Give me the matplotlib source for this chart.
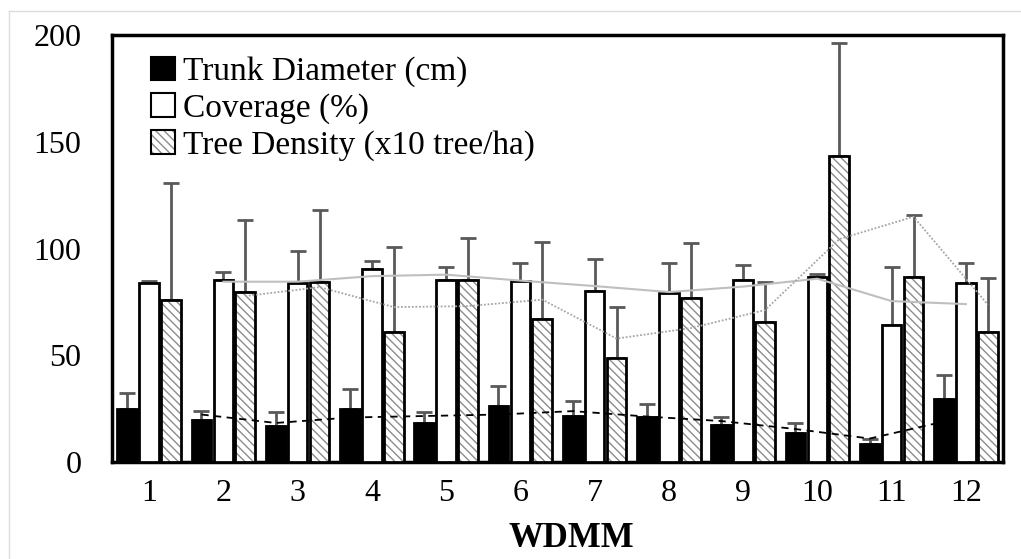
import matplotlib
matplotlib.use("Agg")
import matplotlib.pyplot as plt
from matplotlib.patches import Patch
from matplotlib.lines import Line2D
import numpy as np
import pandas as pd

# WDMM classes
wdmm = [1, 2, 3, 4, 5, 6, 7, 8, 9, 10, 11, 12]

trunk = [24.8, 19.7, 16.9, 24.8, 18.3, 26.2, 21.5, 21.1, 17.3, 13.6, 8.4, 29.5]
trunk_err = [7.5, 4.2, 6.5, 9.4, 5.0, 9.4, 7.0, 6.0, 3.8, 4.7, 2.4, 11.2]

coverage = [83.8, 85.2, 83.8, 90.4, 85.2, 84.8, 80.1, 79.2, 85.2, 86.6, 64.2, 83.8]
coverage_err = [1.2, 4.0, 15.0, 3.7, 6.0, 8.4, 15.0, 14.0, 7.0, 1.4, 27.0, 9.4]

density = [75.9, 79.6, 84.3, 60.9, 85.2, 67.0, 48.7, 76.8, 65.6, 143.3, 86.6, 60.9]
density_err = [55.0, 34.0, 34.0, 40.0, 20.0, 36.0, 24.0, 26.0, 18.7, 53.0, 29.0, 25.3]

labels = ["Trunk Diameter (cm)", "Coverage (%)", "Tree Density (x10 tree/ha)"]

plt.rcParams['font.family'] = ['Liberation Serif', 'DejaVu Serif']
plt.rcParams['hatch.linewidth'] = 1.0

fig = plt.figure(figsize=(10.21, 5.59), dpi=100)
ax = fig.add_axes([0.1097, 0.1735, 0.8727, 0.7635])

x = np.array(wdmm)
w = 0.265
off = 0.295
err_kw = dict(fmt='none', ecolor='#595959', elinewidth=2, capsize=6, capthick=2, zorder=2)

ax.bar(x - off, trunk, w, color='black', edgecolor='black', linewidth=2, zorder=3)
ax.errorbar(x - off, trunk, yerr=[np.zeros(12), trunk_err], **err_kw)

ax.bar(x, coverage, w, color='white', edgecolor='black', linewidth=2, zorder=3)
ax.errorbar(x, coverage, yerr=[np.zeros(12), coverage_err], **err_kw)

# hatched fill first, then black outline on top
ax.bar(x + off, density, w, color='white', edgecolor='#8c8c8c', hatch='\\\\\\\\', linewidth=0, zorder=3)
ax.bar(x + off, density, w, color='none', edgecolor='black', linewidth=2, zorder=3.1)
ax.errorbar(x + off, density, yerr=[np.zeros(12), density_err], **err_kw)

# 2-period moving average trendlines
ax.plot(x - off, pd.Series(trunk).rolling(2).mean(), color='black', ls=(0, (4, 3)), lw=1.3, zorder=4)
ax.plot(x, pd.Series(coverage).rolling(2).mean(), color='#bfbfbf', ls='-', lw=1.5, zorder=4)
ax.plot(x + off, pd.Series(density).rolling(2).mean(), color='#a6a6a6', ls=(0, (1, 1)), lw=1.3, zorder=4)

ax.set_xlim(0.5, 12.5)
ax.set_ylim(0, 200)
ax.set_yticks([0, 50, 100, 150, 200])
ax.set_xticks(x)
ax.set_xticklabels([str(v) for v in wdmm])
ax.tick_params(axis='both', length=0, labelsize=23)
ax.tick_params(axis='y', pad=22)
ax.tick_params(axis='x', pad=12)
for s in ax.spines.values():
    s.set_linewidth(2.5)

ax.set_xlabel('WDMM', fontsize=25, fontweight='bold')
ax.xaxis.set_label_coords(0.515, -0.14)

h1 = Patch(facecolor='black', edgecolor='black', linewidth=1.5)
h2 = Patch(facecolor='white', edgecolor='black', linewidth=1.5)
h3a = Patch(facecolor='white', edgecolor='#8c8c8c', hatch='\\\\\\\\', linewidth=0)
h3b = Patch(facecolor='none', edgecolor='black', linewidth=1.5)
ax.legend([h1, h2, (h3a, h3b)], labels, loc='upper left', frameon=False, fontsize=24,
          handlelength=0.7, handleheight=0.7, handletextpad=0.25, labelspacing=0.18,
          borderaxespad=0.3, bbox_to_anchor=(0.018, 1.005))

# light border around the picture (top and left only visible)
fig.add_artist(Line2D([9 / 1021, 1], [1 - 11 / 559, 1 - 11 / 559], color='#dddddd', lw=1))
fig.add_artist(Line2D([9 / 1021, 9 / 1021], [0, 1 - 11 / 559], color='#dddddd', lw=1))

fig.savefig('out.png', dpi=100)
plt.close(fig)
